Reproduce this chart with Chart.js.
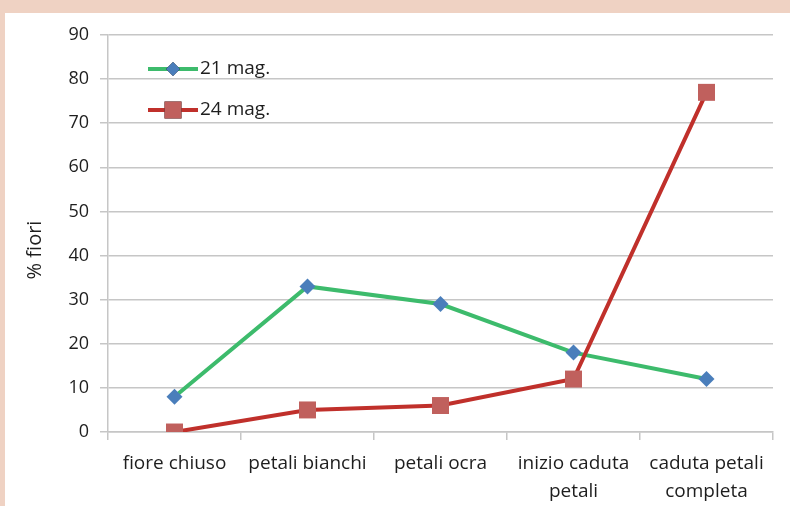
<!DOCTYPE html>
<html>
<head>
<meta charset="utf-8">
<script src="https://cdn.jsdelivr.net/npm/chart.js@4/dist/chart.umd.min.js"></script>
<style>
  html, body { margin: 0; padding: 0; background: #efd2c3; }
  #wrap { position: absolute; left: 5px; top: 13px; width: 785px; height: 493px; background: #ffffff; }
</style>
</head>
<body>
<div id="wrap"><canvas id="LineChart" width="785" height="493"></canvas></div>
<script>
var categories = [["fiore chiuso"], ["petali bianchi"], ["petali ocra"], ["inizio caduta", "petali"], ["caduta petali", "completa"]];
var seriesNames = ["21 mag.", "24 mag."];
var values21 = [8, 33, 29, 18, 12];
var values24 = [0, 5, 6, 12, 77];
var yTicks = [0, 10, 20, 30, 40, 50, 60, 70, 80, 90];
var yTitle = "% fiori";

var fontName = "'Open Sans', sans-serif";
var textColor = "#1e1e1e";

// legend drawn inside the plot area, top left
var innerLegend = {
    id: 'innerLegend',
    afterDatasetsDraw: function (chart) {
        var ctx = chart.ctx;
        var items = chart.data.datasets;
        var x0 = 143, y0 = 56, gap = 41;
        for (var i = 0; i < items.length; i++) {
            var ds = items[i];
            var y = y0 + i * gap;
            ctx.save();
            ctx.strokeStyle = ds.borderColor;
            ctx.lineWidth = 4;
            ctx.beginPath();
            ctx.moveTo(x0, y);
            ctx.lineTo(x0 + 50, y);
            ctx.stroke();
            Chart.helpers.drawPoint(ctx, {
                pointStyle: ds.pointStyle,
                radius: ds.legendRadius,
                borderWidth: 0
            }, x0 + 25, y);
            ctx.fillStyle = ds.pointBackgroundColor;
            ctx.fill();
            ctx.fillStyle = textColor;
            ctx.font = "19px " + fontName;
            ctx.textBaseline = "middle";
            ctx.fillText(ds.label, x0 + 52, y);
            ctx.restore();
        }
    }
};

// y axis title, sits a bit below the axis middle like the original
var yTitlePlugin = {
    id: 'yTitle',
    afterDraw: function (chart) {
        var ctx = chart.ctx;
        ctx.save();
        ctx.translate(30, 237);
        ctx.rotate(-Math.PI / 2);
        ctx.fillStyle = textColor;
        ctx.font = "20px " + fontName;
        ctx.textAlign = "center";
        ctx.textBaseline = "middle";
        ctx.fillText(yTitle, 0, 0);
        ctx.restore();
    }
};

var ctx = document.getElementById("LineChart").getContext('2d');
var myChart = new Chart(ctx, {
    type: 'line',
    data: {
        labels: categories,
        datasets: [
            {
                label: seriesNames[0],
                data: values21,
                borderColor: "#3dbb6c",
                borderWidth: 4,
                pointStyle: 'rectRot',
                pointRadius: 8,
                legendRadius: 7,
                pointBackgroundColor: "#4a7ebb",
                pointBorderWidth: 0,
                order: 1
            },
            {
                label: seriesNames[1],
                data: values24,
                borderColor: "#c0302b",
                borderWidth: 4,
                pointStyle: 'rect',
                pointRadius: 12,
                legendRadius: 12,
                pointBackgroundColor: "#c0605d",
                pointBorderWidth: 0,
                order: 0
            }
        ]
    },
    options: {
        responsive: false,
        animation: false,
        layout: { padding: { top: 22, right: 17, left: 0, bottom: 0 } },
        plugins: { legend: { display: false }, tooltip: { enabled: false } },
        scales: {
            x: {
                offset: true,
                grid: { offset: true, drawOnChartArea: false, color: "#c6c6c6", tickLength: 8, lineWidth: 1.5 },
                border: { color: "#c6c6c6", width: 1.5 },
                ticks: { color: textColor, font: { family: fontName, size: 19, lineHeight: 1.45 }, maxRotation: 0, padding: 10 },
                afterFit: function (scale) { scale.height = 74; }
            },
            y: {
                min: 0,
                max: 90,
                afterBuildTicks: function (scale) {
                    scale.ticks = yTicks.map(function (v) { return { value: v }; });
                },
                grid: { color: "#c6c6c6", tickLength: 8, lineWidth: 1.5 },
                border: { color: "#c6c6c6", width: 1.5 },
                ticks: { color: textColor, font: { family: fontName, size: 18 }, padding: 11 },
                afterFit: function (scale) { scale.width = 103; }
            }
        }
    },
    plugins: [innerLegend, yTitlePlugin]
});
</script>
</body>
</html>
